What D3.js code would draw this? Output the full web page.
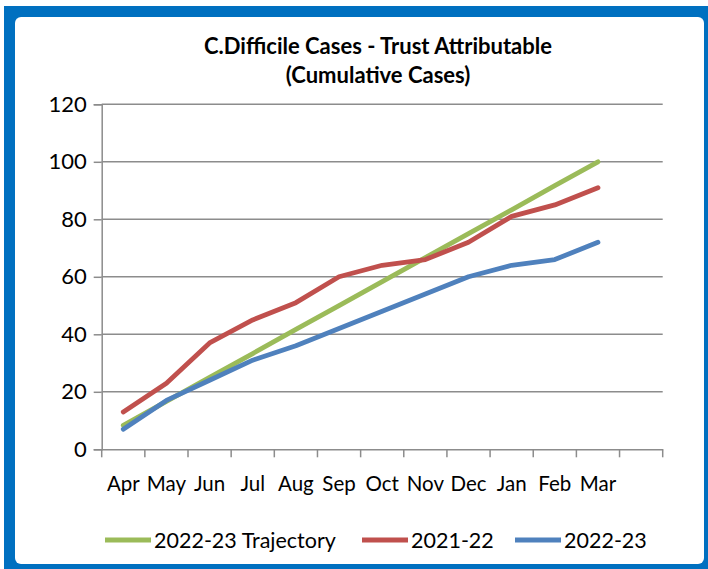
<!DOCTYPE html>
<html>
<head>
<meta charset="utf-8">
<script src="https://cdn.jsdelivr.net/npm/d3@7"></script>
<style>
  html, body { margin: 0; padding: 0; background: #fff; }
  svg { display: block; font-family: Lato, "Open Sans", sans-serif; }
</style>
</head>
<body>
<svg id="chart" width="708" height="569"></svg>
<script>
// chart values
var months = ["Apr", "May", "Jun", "Jul", "Aug", "Sep", "Oct", "Nov", "Dec", "Jan", "Feb", "Mar"];
var trajectory = [8.3, 16.7, 25, 33.3, 41.7, 50, 58.3, 66.7, 75, 83.3, 91.7, 100];
var cases2122 = [13, 23, 37, 45, 51, 60, 64, 66, 72, 81, 85, 91];
var cases2223 = [7, 17, 24, 31, 36, 42, 48, 54, 60, 64, 66, 72];
var yTicks = [0, 20, 40, 60, 80, 100, 120];
var seriesNames = ["2022-23 Trajectory", "2021-22", "2022-23"];
var seriesColors = ["#9bbb59", "#c0504d", "#4f81bd"];

(function() {
    var svg = d3.select('#chart');

    // blue frame + white card
    svg.append('rect')
        .attr('x', 4).attr('y', 6)
        .attr('width', 704).attr('height', 563)
        .style('fill', '#0070c0');
    svg.append('rect')
        .attr('x', 15).attr('y', 17)
        .attr('width', 689).attr('height', 547)
        .attr('rx', 6)
        .style('fill', '#ffffff');

    // title
    var title = svg.append('text')
        .attr('text-anchor', 'middle')
        .style('font-weight', 'bold')
        .style('font-size', '22px')
        .style('fill', '#000');
    title.append('tspan').attr('x', 378).attr('y', 54).text('C.Difficile Cases - Trust Attributable');
    title.append('tspan').attr('x', 378).attr('y', 83).text('(Cumulative Cases)');

    // 13 category slots, last one empty (like the original)
    var slots = d3.range(months.length + 1);
    var x = d3.scaleBand().domain(slots).range([101.7, 662.7]);
    var y = d3.scaleLinear().domain([0, 120]).range([449.3, 104.3]);

    // gridlines
    svg.append('g')
        .selectAll('line')
        .data(yTicks.slice(1))
        .enter().append('line')
        .attr('x1', x.range()[0]).attr('x2', x.range()[1])
        .attr('y1', function(d) { return y(d); })
        .attr('y2', function(d) { return y(d); })
        .style('stroke', '#8c8c8c')
        .style('stroke-width', 1.5);

    // y axis
    var yAxis = svg.append('g')
        .attr('transform', 'translate(' + x.range()[0] + ',0)')
        .call(d3.axisLeft(y).tickValues(yTicks).tickSize(8).tickPadding(7));
    yAxis.selectAll('line, path').style('stroke', '#8c8c8c').style('stroke-width', 1.5);
    yAxis.selectAll('text').style('font-size', '22px').style('fill', '#000').style('font-family', 'Lato');

    // x axis: labels centred in slots, ticks on slot edges
    var xAxis = svg.append('g')
        .attr('transform', 'translate(0,' + y(0) + ')')
        .call(d3.axisBottom(x).tickSize(0).tickPadding(27)
            .tickFormat(function(i) { return months[i] || ''; }));
    xAxis.select('.domain').style('stroke', '#8c8c8c').style('stroke-width', 1.5);
    xAxis.selectAll('text').style('font-size', '20.5px').style('fill', '#000').style('font-family', 'Lato');

    var edges = d3.range(slots.length + 1).map(function(i) { return x.range()[0] + i * x.step(); });
    xAxis.selectAll('line.edge')
        .data(edges)
        .enter().append('line')
        .attr('class', 'edge')
        .attr('x1', function(d) { return d; }).attr('x2', function(d) { return d; })
        .attr('y1', 0).attr('y2', 8)
        .style('stroke', '#8c8c8c')
        .style('stroke-width', 1.5);

    // lines
    var series = [trajectory, cases2122, cases2223];
    var line = d3.line()
        .x(function(d, i) { return x(i) + x.bandwidth() / 2; })
        .y(function(d) { return y(d); });

    svg.append('g')
        .selectAll('path')
        .data(series)
        .enter().append('path')
        .attr('d', line)
        .style('fill', 'none')
        .style('stroke', function(d, i) { return seriesColors[i]; })
        .style('stroke-width', 4.8)
        .style('stroke-linejoin', 'round')
        .style('stroke-linecap', 'round');

    // legend
    var legendX = [105, 362, 515];
    var legend = svg.append('g').selectAll('g')
        .data(seriesNames)
        .enter().append('g')
        .attr('transform', function(d, i) { return 'translate(' + legendX[i] + ',540)'; });
    legend.append('line')
        .attr('x1', 0).attr('x2', 46)
        .style('stroke', function(d, i) { return seriesColors[i]; })
        .style('stroke-width', 4.8);
    legend.append('text')
        .attr('x', 49).attr('y', 7.5)
        .style('font-size', '21.5px')
        .text(function(d) { return d; });
})();
</script>
</body>
</html>
